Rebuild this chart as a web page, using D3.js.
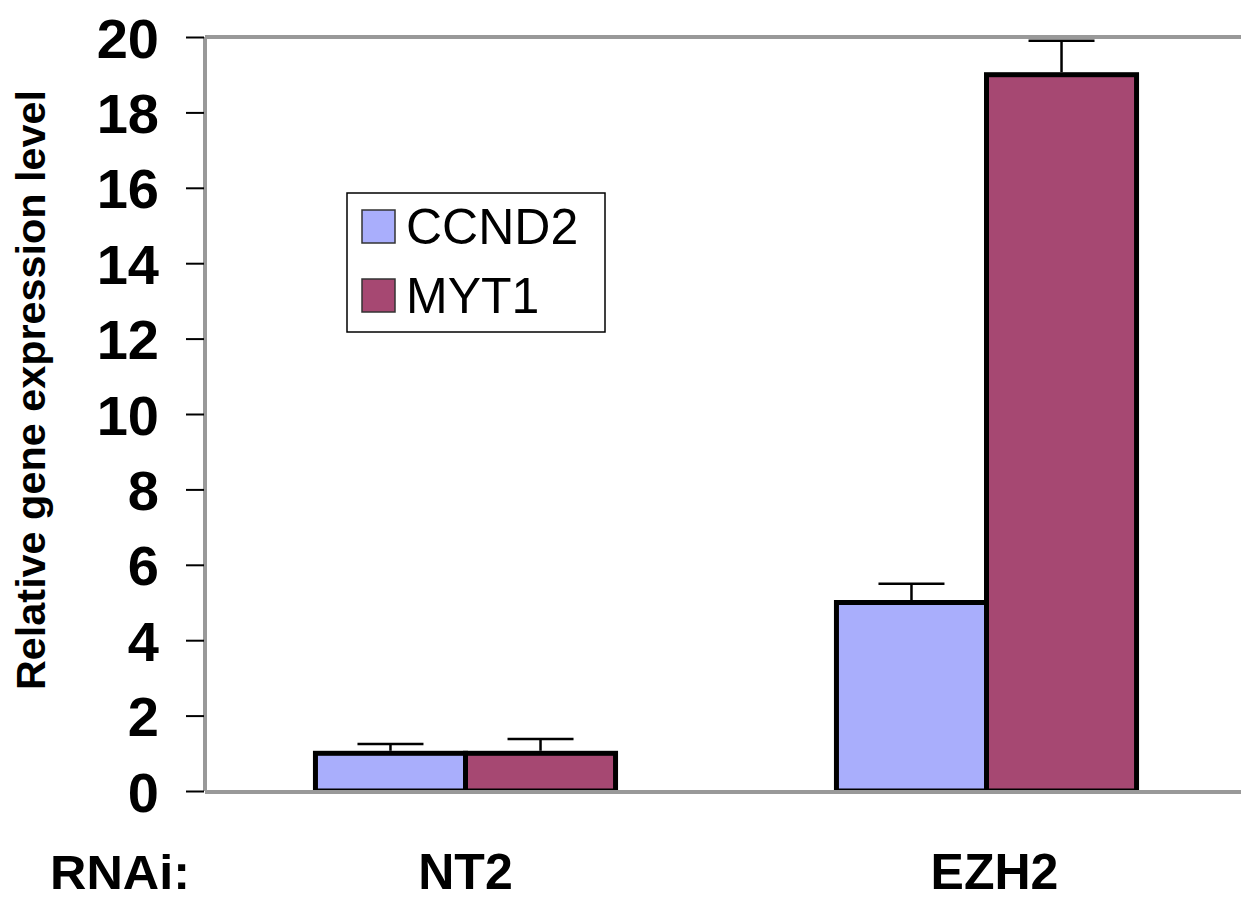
<!DOCTYPE html>
<html>
<head>
<meta charset="utf-8">
<script src="https://cdn.jsdelivr.net/npm/d3@7"></script>
<style>
  body { margin: 0; background: #fff; }
  svg { display: block; font-family: "Liberation Sans", Arial, sans-serif; }
</style>
</head>
<body>
<svg id="chart" width="1241" height="901"></svg>
<script>
const groups = ['NT2', 'EZH2'];
const seriesNames = ['CCND2', 'MYT1'];
const ccnd2Values = [1.0, 5.0];
const ccnd2Errors = [0.25, 0.5];
const myt1Values = [1.0, 19.0];
const myt1Errors = [0.38, 0.9];
const yTicks = [0, 2, 4, 6, 8, 10, 12, 14, 16, 18, 20];

const colors = { CCND2: '#a9aefc', MYT1: '#a64872' };

const svg = d3.select('#chart');

const plotLeft = 205;
const plotTop = 37;
const plotBottom = 791;
const plotRight = 1241;

const y = d3.scaleLinear().domain([0, 20]).range([plotBottom, plotTop]);
const x0 = d3.scaleBand()
  .domain(groups)
  .range([plotLeft, 1247])
  .paddingInner(0.424)
  .paddingOuter(0.212);
const x1 = d3.scaleBand()
  .domain(seriesNames)
  .range([0, x0.bandwidth()]);

const rows = [];
groups.forEach((g, i) => {
  rows.push({ group: g, series: 'CCND2', value: ccnd2Values[i], err: ccnd2Errors[i] });
  rows.push({ group: g, series: 'MYT1', value: myt1Values[i], err: myt1Errors[i] });
});

// frame lines (gray)
svg.append('line')
  .attr('x1', plotLeft).attr('x2', plotRight)
  .attr('y1', plotTop).attr('y2', plotTop)
  .attr('stroke', '#999').attr('stroke-width', 4);
svg.append('line')
  .attr('x1', plotLeft).attr('x2', plotLeft)
  .attr('y1', plotTop).attr('y2', plotBottom)
  .attr('stroke', '#999').attr('stroke-width', 4);

// bars
svg.append('g')
  .selectAll('rect')
  .data(rows)
  .join('rect')
  .attr('x', d => x0(d.group) + x1(d.series))
  .attr('y', d => y(d.value))
  .attr('width', x1.bandwidth())
  .attr('height', d => y(0) - y(d.value))
  .attr('fill', d => colors[d.series])
  .attr('stroke', '#000')
  .attr('stroke-width', 5);

// baseline
svg.append('line')
  .attr('x1', plotLeft).attr('x2', plotRight)
  .attr('y1', plotBottom + 1).attr('y2', plotBottom + 1)
  .attr('stroke', '#999').attr('stroke-width', 4);

// error bars
const capHalf = 33;
const errG = svg.append('g').attr('stroke', '#000').attr('stroke-width', 2.5);
rows.forEach(d => {
  const cx = x0(d.group) + x1(d.series) + x1.bandwidth() / 2;
  errG.append('line')
    .attr('x1', cx).attr('x2', cx)
    .attr('y1', y(d.value) - 2.5).attr('y2', y(d.value + d.err));
  errG.append('line')
    .attr('x1', cx - capHalf).attr('x2', cx + capHalf)
    .attr('y1', y(d.value + d.err)).attr('y2', y(d.value + d.err));
});

// y axis ticks and labels
const axis = d3.axisLeft(y).tickValues(yTicks).tickSize(18).tickPadding(27);
const axisG = svg.append('g')
  .attr('transform', `translate(${plotLeft - 1},0)`)
  .call(axis);
axisG.select('.domain').remove();
axisG.selectAll('.tick line').attr('stroke', '#000').attr('stroke-width', 2);
axisG.selectAll('.tick text')
  .attr('fill', '#000')
  .attr('font-size', 56)
  .attr('font-weight', 'bold')
  .attr('font-family', '"Liberation Sans", Arial, sans-serif')
  .attr('dy', '0.36em');

// y axis title
svg.append('text')
  .attr('transform', `translate(45,${(plotTop + plotBottom) / 2 - 24}) rotate(-90)`)
  .attr('text-anchor', 'middle')
  .attr('font-size', 41)
  .attr('font-weight', 'bold')
  .attr('textLength', 600).attr('lengthAdjust', 'spacingAndGlyphs')
  .text('Relative gene expression level');

// x labels
svg.append('text')
  .attr('x', 120).attr('y', 889)
  .attr('text-anchor', 'middle')
  .attr('font-size', 49).attr('font-weight', 'bold')
  .attr('textLength', 140).attr('lengthAdjust', 'spacingAndGlyphs')
  .text('RNAi:');
svg.append('g')
  .selectAll('text')
  .data(groups)
  .join('text')
  .attr('x', d => x0(d) + x0.bandwidth() / 2)
  .attr('dx', (d, i) => i * 8)
  .attr('y', 889)
  .attr('text-anchor', 'middle')
  .attr('font-size', 50).attr('font-weight', 'bold')
  .text(d => d);

// legend
const legend = svg.append('g').attr('transform', 'translate(347,193)');
legend.append('rect')
  .attr('width', 258).attr('height', 139)
  .attr('fill', '#fff').attr('stroke', '#000').attr('stroke-width', 1.5);
seriesNames.forEach((s, i) => {
  const row = legend.append('g').attr('transform', `translate(15,${17 + i * 69})`);
  row.append('rect')
    .attr('width', 33).attr('height', 33)
    .attr('fill', colors[s]).attr('stroke', '#333').attr('stroke-width', 1.5);
  row.append('text')
    .attr('x', 44).attr('y', 34)
    .attr('font-size', 50)
    .text(s);
});
</script>
</body>
</html>
